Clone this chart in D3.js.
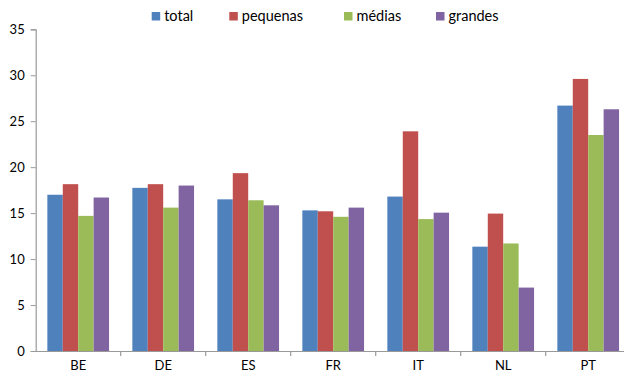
<!DOCTYPE html>
<html><head><meta charset="utf-8">
<script src="https://cdn.jsdelivr.net/npm/d3@7"></script>
<style>html,body{margin:0;padding:0;background:#fff;overflow:hidden}</style>
</head><body><svg id="c" width="624" height="372"></svg>
<script>
const categories = ["BE","DE","ES","FR","IT","NL","PT"];
const seriesNames = ["total","pequenas","médias","grandes"];
const total    = [17.0, 17.75, 16.5, 15.3, 16.8, 11.35, 26.7];
const pequenas = [18.15, 18.15, 19.35, 15.2, 23.9, 14.95, 29.6];
const medias   = [14.7, 15.6, 16.4, 14.6, 14.35, 11.7, 23.5];
const grandes  = [16.7, 18.0, 15.85, 15.6, 15.05, 6.9, 26.3];
const yTicks = [0,5,10,15,20,25,30,35];
const colors = ["#4F81BD","#C0504D","#9BBB59","#8064A2"];
const seriesVals = [total, pequenas, medias, grandes];

const font = "Lato, 'Open Sans', sans-serif";
const svg = d3.select("#c");
const pL = 35.7, pR = 630.7, pT = 29.3, pB = 351;
const x = d3.scaleBand().domain(categories).range([pL, pR]).paddingInner(0.274).paddingOuter(0.137);
const x0 = d3.scaleBand().domain(categories).range([pL, pR]);
const xs = d3.scaleBand().domain(seriesNames).range([0, x.bandwidth()]);
const y = d3.scaleLinear().domain([0,35]).range([pB, pT]);

// bars
categories.forEach((c, i) => {
  svg.append("g").selectAll("rect").data(seriesNames).join("rect")
    .attr("x", (s) => x(c) + xs(s))
    .attr("y", (s, j) => y(seriesVals[j][i]))
    .attr("width", xs.bandwidth())
    .attr("height", (s, j) => pB - y(seriesVals[j][i]))
    .attr("fill", (s, j) => colors[j]);
});

// y axis
const ya = svg.append("g").attr("transform", `translate(${pL},0)`)
  .call(d3.axisLeft(y).tickValues(yTicks).tickSize(5).tickPadding(6));
ya.select(".domain").attr("stroke", "#999").attr("stroke-width", 1.2);
ya.selectAll(".tick line").attr("stroke", "#999");
ya.selectAll("text").attr("font-family", font).attr("font-size", 13).attr("fill", "#000");

// x axis
const xa = svg.append("g").attr("transform", `translate(0,${pB})`)
  .call(d3.axisBottom(x0).tickSize(0).tickPadding(10));
xa.select(".domain").attr("stroke", "#999").attr("stroke-width", 1.2);
xa.selectAll("text").attr("font-family", font).attr("font-size", 13).attr("fill", "#000");
// category boundary ticks
svg.append("g").selectAll("line").data(categories.slice(1)).join("line")
  .attr("x1", d => x0(d)).attr("x2", d => x0(d))
  .attr("y1", pB).attr("y2", pB + 5)
  .attr("stroke", "#999").attr("stroke-width", 1.2);

// legend
const legX = [151.7, 229.3, 344, 436];
const lg = svg.append("g").selectAll("g").data(seriesNames).join("g")
  .attr("transform", (d, i) => `translate(${legX[i]},12)`);
lg.append("rect").attr("width", 8.5).attr("height", 8.5).attr("fill", (d, i) => colors[i]);
lg.append("text").attr("x", 12.5).attr("y", 9).attr("font-family", font).attr("font-size", 14.5)
  .attr("fill", "#000").text(d => d);
</script></body></html>
